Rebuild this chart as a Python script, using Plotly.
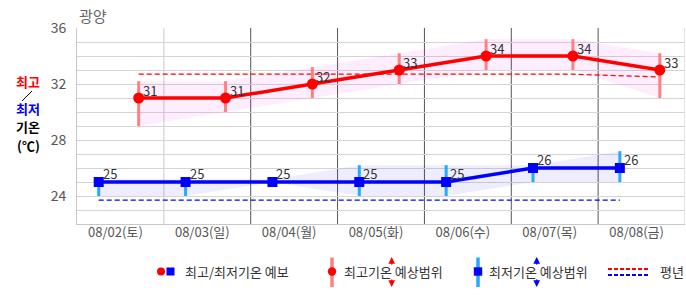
import plotly.graph_objects as go

# ---------------- data ----------------
station = "광양"
dates = ["08/02(토)", "08/03(일)", "08/04(월)", "08/05(화)", "08/06(수)", "08/07(목)", "08/08(금)"]
tmax = [31, 31, 32, 33, 34, 34, 33]
tmin = [25, 25, 25, 25, 25, 26, 26]
tmax_lo = [29, 30, 31, 32, 33, 33, 31]
tmax_hi = [32.2, 32.2, 33.2, 34.2, 35.2, 35.2, 34.2]
tmin_lo = [24, 24, 25, 24, 24, 25, 25]
tmin_hi = [25.2, 25.2, 25.2, 26.2, 26.2, 26.2, 27.2]
tmax_avg = [32.7, 32.7, 32.7, 32.7, 32.7, 32.7, 32.5]
tmin_avg = [23.7, 23.7, 23.7, 23.7, 23.7, 23.7, 23.7]
ytick_vals = [24, 28, 32, 36]

# ---------------- layout constants ----------------
W_PX, H_PX = 686, 295
L, R, T, B = 77, 685, 28, 224
FONT = "Noto Sans CJK KR"
MIN_OFF, MAX_OFF = -0.25, 0.21

idx = list(range(len(dates)))
xr = [i + MAX_OFF for i in idx]
xb = [i + MIN_OFF for i in idx]

def PX(x):
    return (x - L) / (R - L)

def PY(y):
    return (B - y) / (B - T)

fig = go.Figure()

def band(xs, lo, hi, color):
    fig.add_trace(go.Scatter(x=list(xs) + list(xs)[::-1], y=list(hi) + list(lo)[::-1],
                             fill="toself", fillcolor=color, line=dict(width=0),
                             mode="lines", hoverinfo="skip", showlegend=False))

def bars(xs, lo, hi, color, width):
    X, Y = [], []
    for x, a, b in zip(xs, lo, hi):
        X += [x, x, None]
        Y += [a, b, None]
    fig.add_trace(go.Scatter(x=X, y=Y, mode="lines", line=dict(color=color, width=width),
                             connectgaps=False, hoverinfo="skip", showlegend=False))

band(xr, tmax_lo, tmax_hi, "rgba(230,0,230,0.07)")
band(xb, tmin_lo, tmin_hi, "rgba(0,0,230,0.07)")

fig.add_trace(go.Scatter(x=xr, y=tmax_avg, mode="lines",
                         line=dict(color="#FF0000", width=1.2, dash="5px,3px"), showlegend=False))
fig.add_trace(go.Scatter(x=xb, y=tmin_avg, mode="lines",
                         line=dict(color="#0000FF", width=1.2, dash="5px,3px"), showlegend=False))

bars(xr, tmax_lo, tmax_hi, "#FF8080", 3)
bars(xb, tmin_lo, tmin_hi, "#22AAFF", 3)

fig.add_trace(go.Scatter(x=xr, y=tmax, mode="lines+markers",
                         line=dict(color="#FF0000", width=3.5),
                         marker=dict(symbol="circle", size=11, color="#FF0000"), showlegend=False))
fig.add_trace(go.Scatter(x=xb, y=tmin, mode="lines+markers",
                         line=dict(color="#0000FF", width=3.5),
                         marker=dict(symbol="square", size=10, color="#0000FF"), showlegend=False))

ann = []
for x, v in zip(xr, tmax):
    ann.append(dict(x=x, y=v, xref="x", yref="y", text=str(v), showarrow=False,
                    xanchor="left", yanchor="middle", xshift=2, yshift=8,
                    font=dict(family=FONT, size=13, color="#333")))
for x, v in zip(xb, tmin):
    ann.append(dict(x=x, y=v, xref="x", yref="y", text=str(v), showarrow=False,
                    xanchor="left", yanchor="middle", xshift=2, yshift=9,
                    font=dict(family=FONT, size=13, color="#333")))

# title
ann.append(dict(x=PX(77), y=PY(16), xref="paper", yref="paper", text=station, showarrow=False,
                xanchor="left", yanchor="middle", font=dict(family=FONT, size=15, color="#666")))

# left label
for txt, cy, col in [("최고", 81, "#FF0000"), ("최저", 108.5, "#0000FF"),
                     ("기온", 126, "#000000"), ("(℃)", 145, "#000000")]:
    ann.append(dict(x=PX(28), y=PY(cy), xref="paper", yref="paper", text="<b>%s</b>" % txt,
                    showarrow=False, xanchor="center", yanchor="middle",
                    font=dict(family=FONT, size=13, color=col)))

# legend texts
LEG_Y = 271.5
for txt, lx in [("최고/최저기온 예보", 183), ("최고기온 예상범위", 341.5),
                ("최저기온 예상범위", 487), ("평년", 658)]:
    ann.append(dict(x=PX(lx), y=PY(LEG_Y), xref="paper", yref="paper", text=txt,
                    showarrow=False, xanchor="left", yanchor="middle",
                    font=dict(family=FONT, size=13, color="#333")))

# legend arrows
for ax_, col in [(391.7, "#FF0000"), (536.7, "#0000FF")]:
    ann.append(dict(x=PX(ax_), y=PY(257), xref="paper", yref="paper", text="", showarrow=True,
                    ax=0, ay=9, arrowhead=2, arrowsize=0.9, arrowwidth=1.5, arrowcolor=col))
    ann.append(dict(x=PX(ax_), y=PY(287), xref="paper", yref="paper", text="", showarrow=True,
                    ax=0, ay=-9, arrowhead=2, arrowsize=0.9, arrowwidth=1.5, arrowcolor=col))

shapes = []
# vertical separators
for i in idx:
    xpos = i + 0.5
    col = "#C8C8C8" if (i == 0 or i == len(idx) - 1) else "#555555"
    shapes.append(dict(type="line", xref="x", yref="paper", x0=xpos, x1=xpos, y0=0, y1=1,
                       line=dict(color=col, width=1), layer="below"))

# slash in left label
shapes.append(dict(type="line", xref="paper", yref="paper", x0=PX(32), y0=PY(91), x1=PX(22), y1=PY(101),
                   line=dict(color="#000", width=1)))

def circ(cx, cy, r, col):
    shapes.append(dict(type="circle", xref="paper", yref="paper", x0=PX(cx - r), x1=PX(cx + r),
                       y0=PY(cy + r), y1=PY(cy - r), fillcolor=col, line=dict(width=0)))

def rect(cx, cy, r, col):
    shapes.append(dict(type="rect", xref="paper", yref="paper", x0=PX(cx - r), x1=PX(cx + r),
                       y0=PY(cy + r), y1=PY(cy - r), fillcolor=col, line=dict(width=0)))

def seg(x0, y0, x1, y1, col, w, dash=None):
    d = dict(color=col, width=w)
    if dash:
        d["dash"] = dash
    shapes.append(dict(type="line", xref="paper", yref="paper", x0=PX(x0), y0=PY(y0),
                       x1=PX(x1), y1=PY(y1), line=d))

circ(161, LEG_Y, 4, "#FF0000")
rect(170.5, LEG_Y, 4, "#0000FF")
seg(332, 257.5, 332, 287, "#FF8080", 3.5)
circ(332, LEG_Y, 4.2, "#FF0000")
seg(478, 257.5, 478, 287, "#22AAFF", 3.5)
rect(478, LEG_Y, 4.2, "#0000FF")
seg(608, 269, 648, 269, "#FF0000", 2, "4px,2px")
seg(608, 275, 648, 275, "#0000FF", 2, "4px,2px")

fig.update_layout(
    width=W_PX, height=H_PX,
    margin=dict(l=L, r=W_PX - R, t=T, b=H_PX - B, pad=0),
    paper_bgcolor="white", plot_bgcolor="white",
    font=dict(family=FONT, size=13, color="#555"),
    showlegend=False,
    annotations=ann, shapes=shapes,
    xaxis=dict(range=[-0.5, len(dates) - 0.5], tickmode="array", tickvals=idx, ticktext=dates,
               showgrid=False, zeroline=False, showline=True, linecolor="#C8C8C8", linewidth=1,
               ticks="", ticklabelshift=-5, ticklabelstandoff=-4,
               tickfont=dict(family=FONT, size=13, color="#555"), fixedrange=True),
    yaxis=dict(range=[22, 36], tickmode="array", tickvals=ytick_vals,
               showgrid=True, gridcolor="#D4D4D4", gridwidth=1, zeroline=False,
               showline=True, linecolor="#C8C8C8", linewidth=1, ticks="",
               ticklabelstandoff=7,
               minor=dict(tickmode="linear", tick0=22, dtick=1, showgrid=True,
                          gridcolor="#D4D4D4", gridwidth=1),
               tickfont=dict(family=FONT, size=14, color="#555"), fixedrange=True),
)

fig.write_html("out.html")
